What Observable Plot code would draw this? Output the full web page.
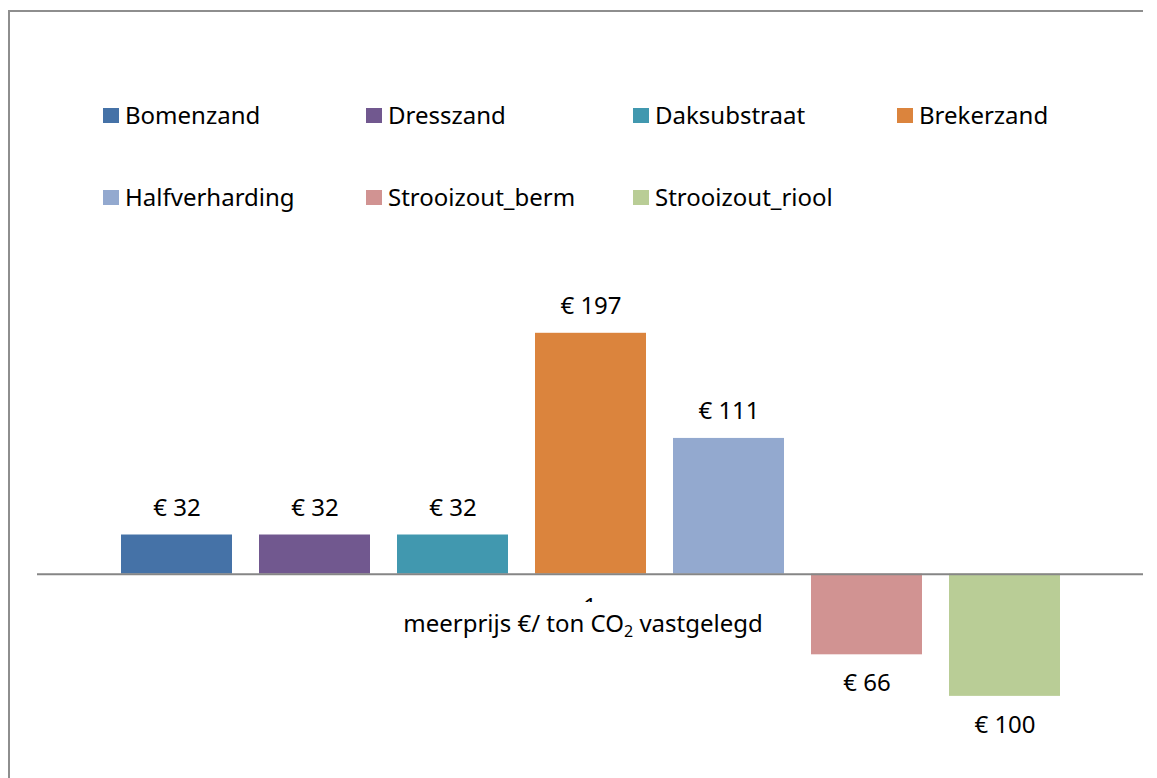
<!DOCTYPE html>
<html>
<head>
<meta charset="utf-8">
<script src="https://cdn.jsdelivr.net/npm/d3@7"></script>
<script src="https://cdn.jsdelivr.net/npm/@observablehq/plot@0.6"></script>
<style>
  html, body { margin: 0; padding: 0; background: #fff; }
  body { width: 1157px; height: 778px; position: relative; overflow: hidden; font-family: "Noto Sans", sans-serif; color: #000; }
  #frame { position: absolute; left: 8px; top: 10px; width: 1133px; height: 800px; border-left: 2px solid #8e8e8e; border-top: 2px solid #8e8e8e; }
  #legend { position: absolute; left: 103px; top: 103px; display: grid; grid-template-columns: 263px 267px 264px 264px; row-gap: 58px; }
  .item { display: flex; align-items: center; height: 24px; font-size: 24px; line-height: 24px; white-space: nowrap; }
  .sw { width: 16px; height: 15px; margin-right: 6px; flex: none; }
  #chart { position: absolute; left: 0; top: 240px; }
  #tickclip { position: absolute; left: 570px; width: 40px; top: 596px; height: 6px; overflow: hidden; }
  #tick1 { position: absolute; left: 0; width: 40px; text-align: center; top: -2px; font-size: 24px; line-height: 24px; }
  #xtitle { position: absolute; left: 400px; width: 366px; text-align: center; top: 602px; height: 42px; line-height: 42px; font-size: 24px; background: #fff; white-space: nowrap; }
  #xtitle sub { font-size: 16px; vertical-align: -5px; line-height: 0; }
</style>
</head>
<body>
<div id="frame"></div>
<div id="legend"></div>
<div id="chart"></div>
<div id="tickclip"><div id="tick1">1</div></div>
<div id="xtitle">meerprijs €/ ton CO<sub>2</sub> vastgelegd</div>
<script>
const series = ["Bomenzand", "Dresszand", "Daksubstraat", "Brekerzand", "Halfverharding", "Strooizout_berm", "Strooizout_riool"];
const values = [32, 32, 32, 197, 111, -66, -100];
const colors = ["#4572A7", "#71588F", "#4198AF", "#DB843D", "#93A9CF", "#D19392", "#B9CD96"];

const data = series.map((s, i) => ({series: s, value: values[i]}));

// legend
const legend = document.getElementById("legend");
series.forEach((s, i) => {
  const it = document.createElement("div");
  it.className = "item";
  const sw = document.createElement("span");
  sw.className = "sw";
  sw.style.background = colors[i];
  it.appendChild(sw);
  it.appendChild(document.createTextNode(s));
  legend.appendChild(it);
});

const fmt = d => "€ " + Math.abs(d.value);

const chart = Plot.plot({
  width: 1157,
  height: 538,
  marginLeft: 37,
  marginRight: 14,
  marginTop: 28,
  marginBottom: 21,
  style: {fontFamily: "Noto Sans, sans-serif", background: "transparent"},
  x: {domain: series, axis: null, paddingInner: 0.197, paddingOuter: 0.597},
  y: {domain: [-150, 250], axis: null},
  color: {domain: series, range: colors},
  marks: [
    Plot.barY(data, {x: "series", y: "value", fill: "series"}),
    Plot.ruleY([0], {stroke: "#868686", strokeWidth: 2}),
    Plot.text(data.filter(d => d.value >= 0), {x: "series", y: "value", text: fmt, dy: -27, fontSize: 24, fill: "#000"}),
    Plot.text(data.filter(d => d.value < 0), {x: "series", y: "value", text: fmt, dy: 29, fontSize: 24, fill: "#000"})
  ]
});
document.getElementById("chart").appendChild(chart);
</script>
</body>
</html>
